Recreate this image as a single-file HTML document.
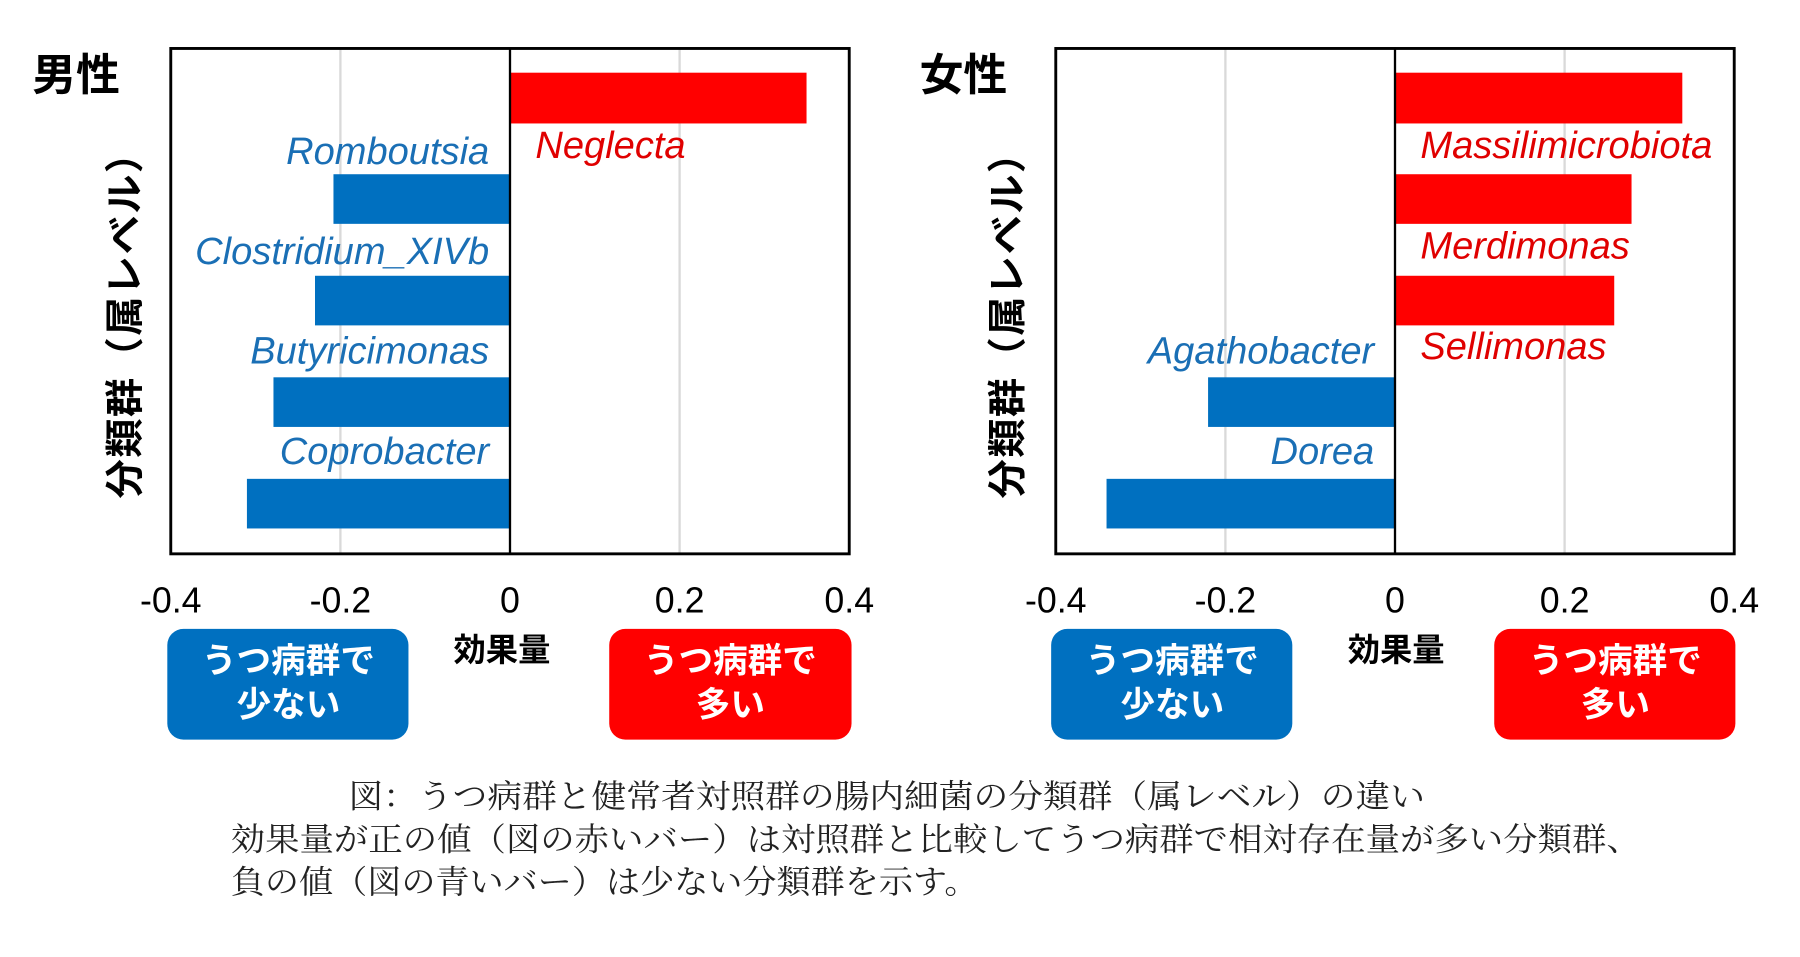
<!DOCTYPE html>
<html><head><meta charset="utf-8"><style>
html,body{margin:0;padding:0;background:#fff;}
svg{display:block;}
.lab{font-family:"Liberation Sans",sans-serif;font-style:italic;font-size:33px;}
.tick{font-family:"Liberation Sans",sans-serif;font-size:31px;fill:#000;}
.jp{font-family:"Liberation Sans","Noto Sans CJK JP",sans-serif;font-weight:bold;}
.cap{font-family:"Liberation Serif","Noto Serif CJK SC",serif;font-size:28px;fill:#222;}
</style></head><body>
<svg width="1800" height="957" viewBox="0 0 1560 829.4" preserveAspectRatio="none" xmlns="http://www.w3.org/2000/svg">
<rect width="1560" height="830" fill="#fff"/>
<!-- LEFT -->
<g>
<line x1="295" y1="42" x2="295" y2="480" stroke="#d9d9d9" stroke-width="2"/>
<line x1="589" y1="42" x2="589" y2="480" stroke="#d9d9d9" stroke-width="2"/>
<rect x="442" y="63" width="257" height="44" fill="#ff0000"/>
<rect x="289" y="151" width="153" height="43" fill="#0070c0"/>
<rect x="273" y="239" width="169" height="43" fill="#0070c0"/>
<rect x="237" y="327" width="205" height="43" fill="#0070c0"/>
<rect x="214" y="415" width="228" height="43" fill="#0070c0"/>
<line x1="442" y1="42" x2="442" y2="480" stroke="#000" stroke-width="2"/>
<rect x="148" y="42" width="588" height="438" fill="none" stroke="#000" stroke-width="2.5"/>
<text class="lab" x="464" y="137" fill="#e00000">Neglecta</text>
<text class="lab" x="424" y="142" fill="#1a6fb5" text-anchor="end">Romboutsia</text>
<text class="lab" x="424" y="229" fill="#1a6fb5" text-anchor="end">Clostridium_XIVb</text>
<text class="lab" x="424" y="315" fill="#1a6fb5" text-anchor="end">Butyricimonas</text>
<text class="lab" x="424" y="402" fill="#1a6fb5" text-anchor="end">Coprobacter</text>
<text class="tick" x="148" y="531" text-anchor="middle">-0.4</text>
<text class="tick" x="295" y="531" text-anchor="middle">-0.2</text>
<text class="tick" x="442" y="531" text-anchor="middle">0</text>
<text class="tick" x="589" y="531" text-anchor="middle">0.2</text>
<text class="tick" x="736" y="531" text-anchor="middle">0.4</text>
<text class="jp" x="28" y="78" font-size="38">男性</text>
<text class="jp" font-size="34" transform="translate(120,432) rotate(-90)" textLength="316" lengthAdjust="spacing">分類群（属レベル）</text>
<rect x="145" y="545" width="209" height="96" rx="14" fill="#0070c0"/>
<text class="jp" x="250" y="583" font-size="30" fill="#fff" text-anchor="middle">うつ病群で</text>
<text class="jp" x="250" y="621" font-size="30" fill="#fff" text-anchor="middle">少ない</text>
<text class="jp" x="435" y="573" font-size="28" text-anchor="middle">効果量</text>
<rect x="528" y="545" width="210" height="96" rx="14" fill="#ff0000"/>
<text class="jp" x="633" y="583" font-size="30" fill="#fff" text-anchor="middle">うつ病群で</text>
<text class="jp" x="633" y="621" font-size="30" fill="#fff" text-anchor="middle">多い</text>
</g>
<!-- RIGHT -->
<g>
<line x1="1062" y1="42" x2="1062" y2="480" stroke="#d9d9d9" stroke-width="2"/>
<line x1="1356" y1="42" x2="1356" y2="480" stroke="#d9d9d9" stroke-width="2"/>
<rect x="1209" y="63" width="249" height="44" fill="#ff0000"/>
<rect x="1209" y="151" width="205" height="43" fill="#ff0000"/>
<rect x="1209" y="239" width="190" height="43" fill="#ff0000"/>
<rect x="1047" y="327" width="162" height="43" fill="#0070c0"/>
<rect x="959" y="415" width="250" height="43" fill="#0070c0"/>
<line x1="1209" y1="42" x2="1209" y2="480" stroke="#000" stroke-width="2"/>
<rect x="915" y="42" width="588" height="438" fill="none" stroke="#000" stroke-width="2.5"/>
<text class="lab" x="1231" y="137" fill="#e00000">Massilimicrobiota</text>
<text class="lab" x="1231" y="224" fill="#e00000">Merdimonas</text>
<text class="lab" x="1231" y="311" fill="#e00000">Sellimonas</text>
<text class="lab" x="1191" y="315" fill="#1a6fb5" text-anchor="end">Agathobacter</text>
<text class="lab" x="1191" y="402" fill="#1a6fb5" text-anchor="end">Dorea</text>
<text class="tick" x="915" y="531" text-anchor="middle">-0.4</text>
<text class="tick" x="1062" y="531" text-anchor="middle">-0.2</text>
<text class="tick" x="1209" y="531" text-anchor="middle">0</text>
<text class="tick" x="1356" y="531" text-anchor="middle">0.2</text>
<text class="tick" x="1503" y="531" text-anchor="middle">0.4</text>
<text class="jp" x="797" y="78" font-size="38">女性</text>
<text class="jp" font-size="34" transform="translate(885,432) rotate(-90)" textLength="316" lengthAdjust="spacing">分類群（属レベル）</text>
<rect x="911" y="545" width="209" height="96" rx="14" fill="#0070c0"/>
<text class="jp" x="1016" y="583" font-size="30" fill="#fff" text-anchor="middle">うつ病群で</text>
<text class="jp" x="1016" y="621" font-size="30" fill="#fff" text-anchor="middle">少ない</text>
<text class="jp" x="1210" y="573" font-size="28" text-anchor="middle">効果量</text>
<rect x="1295" y="545" width="209" height="96" rx="14" fill="#ff0000"/>
<text class="jp" x="1400" y="583" font-size="30" fill="#fff" text-anchor="middle">うつ病群で</text>
<text class="jp" x="1400" y="621" font-size="30" fill="#fff" text-anchor="middle">多い</text>
</g>
<!-- caption -->
<text class="cap" x="302" y="700" textLength="933" lengthAdjust="spacingAndGlyphs">図：うつ病群と健常者対照群の腸内細菌の分類群（属レベル）の違い</text>
<text class="cap" x="200" y="737" textLength="1222" lengthAdjust="spacingAndGlyphs">効果量が正の値（図の赤いバー）は対照群と比較してうつ病群で相対存在量が多い分類群、</text>
<text class="cap" x="200" y="774" textLength="648" lengthAdjust="spacingAndGlyphs">負の値（図の青いバー）は少ない分類群を示す。</text>
</svg>
</body></html>
